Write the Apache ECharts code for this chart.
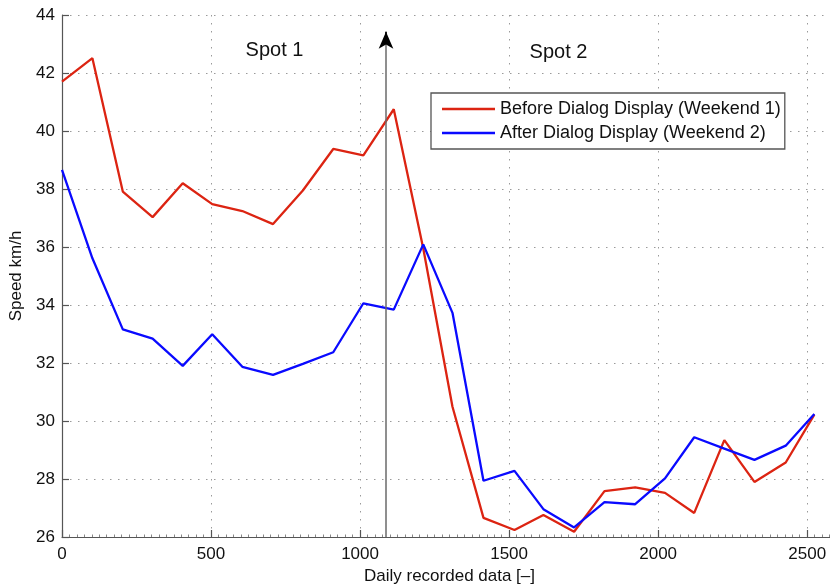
<!DOCTYPE html>
<html>
<head>
<meta charset="utf-8">
<script src="https://cdn.jsdelivr.net/npm/echarts@6/dist/echarts.min.js"></script>
<style>
  html, body { margin: 0; padding: 0; background: #fff; }
  #chart { width: 830px; height: 585px; }
</style>
</head>
<body>
<div id="chart"></div>
<script>
// Sample positions (daily recorded data index)
const samples = [0, 102, 204, 304, 405, 504, 605, 708, 808, 910, 1011, 1113, 1212,
  1310, 1414, 1518, 1615, 1718, 1820, 1923, 2023, 2121, 2222, 2323, 2428, 2524];

// Mean speed, km/h
const beforeDialog = [41.70, 42.51, 37.91, 37.03, 38.20, 37.48, 37.24, 36.79, 37.95, 39.38,
  39.16, 40.75, 35.95, 30.49, 26.66, 26.24, 26.76, 26.18, 27.58, 27.71,
  27.52, 26.83, 29.34, 27.90, 28.57, 30.22];
const afterDialog = [38.66, 35.61, 33.16, 32.84, 31.90, 32.99, 31.87, 31.59, 31.97, 32.37,
  34.06, 33.84, 36.09, 33.73, 27.94, 28.28, 26.96, 26.33, 27.20, 27.13,
  28.02, 29.44, 29.05, 28.66, 29.15, 30.24];

const seriesNames = ['Before Dialog Display (Weekend 1)', 'After Dialog Display (Weekend 2)'];
const xTicks = [0, 500, 1000, 1500, 2000, 2500];
const yTicks = [26, 28, 30, 32, 34, 36, 38, 40, 42, 44];

// Boundary between the two spots, marked with an arrow
const spotBoundary = 1087;
const arrowTop = 43.42;

const FONT = '"Liberation Sans", Arial, Helvetica, sans-serif';

const pairs = (xs, ys) => xs.map((x, i) => [x, ys[i]]);

const chart = echarts.init(document.getElementById('chart'), null, { renderer: 'canvas' });

chart.setOption({
  animation: false,
  backgroundColor: '#ffffff',
  // the x range runs a little past the right edge of the canvas
  grid: { left: 62, top: 15, width: 775, height: 522, containLabel: false, outerBoundsMode: 'none' },
  xAxis: {
    type: 'value',
    min: xTicks[0],
    max: 2600,
    interval: xTicks[1] - xTicks[0],
    name: 'Daily recorded data [\u2013]',
    nameLocation: 'middle',
    nameGap: 31,
    nameTextStyle: { fontFamily: FONT, fontSize: 17, color: '#111' },
    axisLine: { show: true, onZero: false, lineStyle: { color: '#555', width: 1.2 } },
    axisTick: { show: true, inside: true, length: 7, lineStyle: { color: '#555', width: 1.2 } },
    minorTick: { show: true, splitNumber: 20, length: 2.5, lineStyle: { color: '#888', width: 1 } },
    axisLabel: {
      fontFamily: FONT, fontSize: 17, color: '#111', margin: 9,
      showMaxLabel: false,
      formatter: v => String(v)
    },
    splitLine: { show: true, lineStyle: { color: '#9a9a9a', width: 1, type: [1.5, 6.5] } }
  },
  yAxis: {
    type: 'value',
    min: yTicks[0],
    max: yTicks[yTicks.length - 1],
    interval: yTicks[1] - yTicks[0],
    name: 'Speed km/h',
    nameLocation: 'middle',
    nameGap: 33,
    nameRotate: 90,
    nameTextStyle: { fontFamily: FONT, fontSize: 17, color: '#111' },
    axisLine: { show: true, lineStyle: { color: '#555', width: 1.2 } },
    axisTick: { show: true, inside: true, length: 7, lineStyle: { color: '#555', width: 1.2 } },
    axisLabel: { fontFamily: FONT, fontSize: 17, color: '#111', margin: 7 },
    splitLine: { show: true, lineStyle: { color: '#9a9a9a', width: 1, type: [1.5, 6.5] } }
  },
  legend: {
    orient: 'vertical',
    left: 431,
    top: 93,
    padding: [7, 4, 7, 11],
    icon: 'rect',
    itemWidth: 53,
    itemHeight: 2.4,
    itemGap: 6,
    backgroundColor: '#ffffff',
    borderColor: '#555',
    borderWidth: 1.3,
    borderRadius: 0,
    textStyle: { fontFamily: FONT, fontSize: 18, color: '#111' },
    data: seriesNames
  },
  graphic: [
    { type: 'text', x: 274.5, y: 50, z: 100,
      style: { text: 'Spot 1', font: '20px ' + FONT, fill: '#111', align: 'center', verticalAlign: 'middle' } },
    { type: 'text', x: 558.5, y: 52, z: 100,
      style: { text: 'Spot 2', font: '20px ' + FONT, fill: '#111', align: 'center', verticalAlign: 'middle' } }
  ],
  series: [
    {
      name: seriesNames[0],
      type: 'line',
      data: pairs(samples, beforeDialog),
      symbol: 'none',
      lineStyle: { color: '#dc2412', width: 2.3 },
      itemStyle: { color: '#dc2412' },
      z: 3,
      markLine: {
        silent: true,
        animation: false,
        label: { show: false },
        emphasis: { disabled: true },
        symbol: ['none', 'none'],
        data: [
          [
            { coord: [spotBoundary, yTicks[0]], symbol: 'none',
              lineStyle: { color: '#6a6a6a', width: 1.5, type: 'solid' } },
            { coord: [spotBoundary, arrowTop], symbol: 'none' }
          ],
          [
            { coord: [spotBoundary, arrowTop - 0.4], symbol: 'none',
              lineStyle: { color: '#000', width: 1.5, type: 'solid' } },
            { coord: [spotBoundary, arrowTop], symbol: 'arrow', symbolSize: [11, 17] }
          ]
        ]
      }
    },
    {
      name: seriesNames[1],
      type: 'line',
      data: pairs(samples, afterDialog),
      symbol: 'none',
      lineStyle: { color: '#0a0aff', width: 2.3 },
      itemStyle: { color: '#0a0aff' },
      z: 4
    }
  ]
});
</script>
</body>
</html>
